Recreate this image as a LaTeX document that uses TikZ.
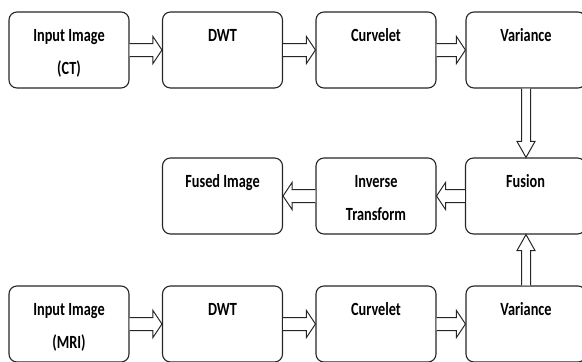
\documentclass[tikz,border=0pt]{standalone}
\usepackage{fontspec}
\usepackage{graphicx}
\setmainfont{Carlito}
\usetikzlibrary{calc}
\newcommand\sline[1]{\scalebox{1}[1.3]{#1}}
\newcommand\boxtext[1]{\parbox[c][76pt][t]{120pt}{\centering\fontsize{14.3}{33}\selectfont\bfseries\rule{0pt}{29.5pt}#1}}
\newcommand\arrRight[2]{\draw[fatarrow] let \p1=(#1.east), \p2=(#2.west) in
  (\x1,\y1+6.5pt) -- (\x2-9pt,\y1+6.5pt) -- (\x2-9pt,\y1+13.5pt) -- (\x2,\y1)
  -- (\x2-9pt,\y1-13.5pt) -- (\x2-9pt,\y1-6.5pt) -- (\x1,\y1-6.5pt);}
\newcommand\arrLeft[2]{\draw[fatarrow] let \p1=(#1.west), \p2=(#2.east) in
  (\x1,\y1+6.5pt) -- (\x2+9pt,\y1+6.5pt) -- (\x2+9pt,\y1+13.5pt) -- (\x2,\y1)
  -- (\x2+9pt,\y1-13.5pt) -- (\x2+9pt,\y1-6.5pt) -- (\x1,\y1-6.5pt);}
\newcommand\arrDown[2]{\draw[fatarrow] let \p1=(#1.south), \p2=(#2.north) in
  (\x1-4.5pt,\y1) -- (\x1-4.5pt,\y2+16pt) -- (\x1-9pt,\y2+16pt) -- (\x1,\y2)
  -- (\x1+9pt,\y2+16pt) -- (\x1+4.5pt,\y2+16pt) -- (\x1+4.5pt,\y1);}
\newcommand\arrUp[2]{\draw[fatarrow] let \p1=(#1.north), \p2=(#2.south) in
  (\x1-4.5pt,\y1) -- (\x1-4.5pt,\y2-16pt) -- (\x1-9pt,\y2-16pt) -- (\x1,\y2)
  -- (\x1+9pt,\y2-16pt) -- (\x1+4.5pt,\y2-16pt) -- (\x1+4.5pt,\y1);}
\begin{document}
\begin{tikzpicture}[x=1pt,y=1pt,
  blockbox/.style={draw=black!85,line width=1.1pt,rounded corners=8pt,fill=white,
    inner sep=0pt,minimum width=120pt,minimum height=76pt},
  fatarrow/.style={draw=black!85,line width=1pt,fill=white,line join=miter}]
\useasboundingbox (0,0) rectangle (582,-362);
\node[blockbox] (ct)   at (69,-50)    {\boxtext{\sline{Input Image}\\\sline{(CT)}}};
\node[blockbox] (dwt1) at (222.5,-50) {\boxtext{\sline{DWT}}};
\node[blockbox] (cur1) at (376,-50)   {\boxtext{\sline{Curvelet}}};
\node[blockbox] (var1) at (526,-50)   {\boxtext{\sline{Variance}}};
\node[blockbox] (fused) at (222.5,-196) {\boxtext{\sline{Fused Image}}};
\node[blockbox] (inv)   at (376,-196)   {\boxtext{\sline{Inverse}\\\sline{Transform}}};
\node[blockbox] (fus)   at (525.5,-196) {\boxtext{\sline{Fusion}}};
\node[blockbox] (mri)  at (69,-324)    {\boxtext{\sline{Input Image}\\\sline{(MRI)}}};
\node[blockbox] (dwt2) at (222.5,-324) {\boxtext{\sline{DWT}}};
\node[blockbox] (cur2) at (376,-324)   {\boxtext{\sline{Curvelet}}};
\node[blockbox] (var2) at (526,-324)   {\boxtext{\sline{Variance}}};
\arrRight{ct}{dwt1}
\arrRight{dwt1}{cur1}
\arrRight{cur1}{var1}
\arrRight{mri}{dwt2}
\arrRight{dwt2}{cur2}
\arrRight{cur2}{var2}
\arrLeft{fus}{inv}
\arrLeft{inv}{fused}
\arrDown{var1}{fus}
\arrUp{var2}{fus}
\end{tikzpicture}
\end{document}
